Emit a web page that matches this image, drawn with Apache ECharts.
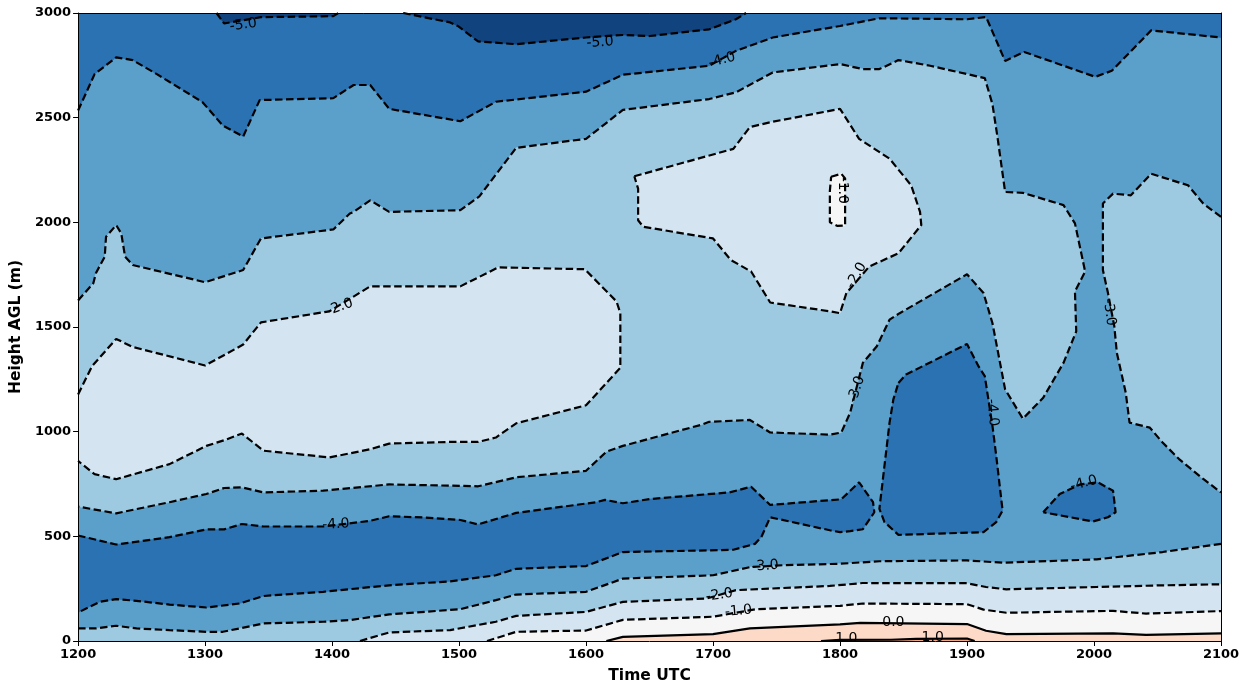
<!DOCTYPE html>
<html>
<head>
<meta charset="utf-8">
<script src="https://cdn.jsdelivr.net/npm/echarts@6/dist/echarts.min.js"></script>
<style>
  html, body { margin: 0; padding: 0; background: #fff; }
  #chart { width: 1251px; height: 689px; }
</style>
</head>
<body>
<div id="chart"></div>
<script>
// Contour lines, as [time UTC, height m]
const xTicks = [1200, 1300, 1400, 1500, 1600, 1700, 1800, 1900, 2000, 2100];
const yTicks = [0, 500, 1000, 1500, 2000, 2500, 3000];

// -5.0 contours along the top
const c5a = [[1309,3000],[1315,2950],[1344,2980],[1401,2985],[1405,3000]];
const c5b = [[1456,3000],[1493,2955],[1499,2938],[1515,2864],[1545,2851],[1600,2883],[1629,2895],[1650,2890],[1697,2922],[1718,2970],[1726,3000]];

// -4.0 contours
const c4top = [[1200,2534],[1213,2708],[1230,2788],[1243,2775],[1262,2708],[1298,2574],[1314,2462],[1330,2410],[1343,2584],[1401,2593],[1417,2656],[1430,2656],[1445,2542],[1501,2483],[1529,2576],[1600,2624],[1629,2705],[1697,2748],[1718,2819],[1747,2883],[1800,2938],[1831,2975],[1900,2970],[1915,2981],[1930,2771],[1945,2814],[2001,2695],[2014,2724],[2045,2917],[2100,2883]];
const c4low = [[1200,504],[1230,461],[1272,496],[1301,533],[1315,533],[1329,559],[1346,547],[1393,547],[1430,574],[1445,596],[1472,590],[1501,578],[1515,557],[1545,612],[1608,663],[1615,674],[1629,658],[1650,678],[1713,710],[1730,737],[1745,650],[1801,677],[1815,758],[1826,663],[1827,615],[1818,534],[1808,525],[1800,520],[1792,529],[1745,591],[1738,496],[1733,464],[1716,436],[1697,433],[1629,425],[1600,358],[1545,345],[1529,314],[1493,285],[1445,266],[1393,235],[1346,215],[1327,179],[1301,160],[1272,174],[1246,192],[1230,200],[1217,187],[1200,136]];
const c4blobA = [[1846,1233],[1852,1273],[1900,1419],[1909,1313],[1914,1265],[1920,1029],[1923,885],[1928,623],[1923,568],[1913,520],[1846,507],[1835,568],[1831,631],[1839,1043],[1842,1154],[1846,1233]];
const c4blobB = [[1960,615],[1973,702],[1989,748],[2003,758],[2015,718],[2017,615],[2011,591],[1999,571],[1960,615]];

// -3.0 contours
const c3up = [[1200,1627],[1212,1709],[1214,1757],[1221,1836],[1222,1931],[1230,1987],[1234,1947],[1237,1836],[1243,1796],[1300,1714],[1330,1772],[1344,1923],[1401,1966],[1414,2042],[1417,2050],[1430,2105],[1445,2050],[1501,2058],[1516,2124],[1545,2356],[1600,2399],[1629,2537],[1697,2589],[1718,2621],[1747,2716],[1800,2756],[1818,2732],[1831,2732],[1846,2775],[1871,2748],[1914,2689],[1920,2565],[1924,2407],[1930,2145],[1944,2141],[1976,2082],[1985,1995],[1993,1765],[1985,1670],[1986,1479],[1976,1329],[1960,1162],[1944,1062],[1930,1202],[1920,1519],[1913,1662],[1900,1752],[1847,1566],[1839,1535],[1829,1408],[1818,1329],[1808,1091],[1801,996],[1792,986],[1745,996],[1729,1056],[1697,1047],[1692,1035],[1629,932],[1616,904],[1600,813],[1545,782],[1515,739],[1493,742],[1445,748],[1393,718],[1346,710],[1329,734],[1315,731],[1301,702],[1272,663],[1230,610],[1200,642]];
const c3right = [[2100,2026],[2086,2090],[2074,2177],[2045,2232],[2029,2129],[2015,2137],[2007,2090],[2007,1995],[2007,1772],[2011,1662],[2016,1503],[2018,1376],[2025,1186],[2028,1043],[2044,1019],[2054,948],[2067,869],[2086,774],[2100,710]];
const c3low = [[1200,60],[1214,60],[1230,73],[1246,60],[1272,52],[1301,44],[1314,44],[1327,60],[1346,84],[1393,92],[1414,100],[1445,127],[1501,152],[1529,195],[1545,222],[1600,235],[1629,298],[1700,314],[1729,353],[1755,362],[1800,369],[1831,381],[1900,385],[1928,374],[2002,390],[2054,425],[2100,464]];

// -2.0 contours
const c2left = [[1200,1178],[1211,1313],[1230,1443],[1243,1405],[1300,1316],[1330,1416],[1344,1522],[1398,1575],[1430,1694],[1501,1694],[1531,1785],[1599,1776],[1624,1622],[1627,1566],[1627,1305],[1600,1126],[1545,1040],[1529,972],[1515,951],[1493,951],[1445,943],[1430,916],[1398,877],[1346,909],[1329,991],[1315,959],[1301,932],[1272,845],[1230,773],[1213,797],[1200,860]];
const c2right = [[1638,2220],[1716,2351],[1729,2455],[1745,2478],[1800,2542],[1815,2399],[1839,2304],[1856,2177],[1863,2050],[1864,1987],[1846,1852],[1823,1789],[1805,1662],[1800,1566],[1792,1575],[1745,1617],[1730,1765],[1714,1820],[1700,1923],[1645,1979],[1641,2010],[1641,2161],[1638,2220]];
const c2low = [[1422,0],[1445,41],[1493,52],[1529,92],[1545,120],[1600,139],[1629,187],[1695,203],[1718,243],[1792,263],[1818,277],[1900,276],[1915,258],[1931,247],[2002,258],[2054,266],[2100,271]];

// -1.0, 0.0 and 1.0 contours
const c1island = [[1793,2218],[1801,2232],[1804,2210],[1804,1985],[1798,1983],[1792,2000],[1792,2150],[1793,2218]];
const c1low = [[1522,0],[1545,44],[1600,50],[1629,101],[1700,116],[1734,152],[1800,168],[1818,179],[1900,176],[1913,150],[1931,135],[2015,144],[2041,131],[2100,143]];
const c0 = [[1616,0],[1629,20],[1700,33],[1729,60],[1800,79],[1816,87],[1900,81],[1915,49],[1931,33],[2015,36],[2041,29],[2100,36]];
const c1pos = [[1785,0],[1800,5],[1840,6],[1860,10],[1900,12],[1906,0]];

// inline contour labels
const labelPos = [[1330,2943],[1611,2859],[1707,2775],[1406,1595],[1802,2153],[1813,1746],[1813,1202],[1920,1091],[2012,1570],[1992,753],[1403,557],[1741,358],[1705,219],[1720,143],[1842,88],[1805,12],[1873,17]];
const labelText = ['-5.0','-5.0','-4.0','-2.0','-1.0','-2.0','-3.0','-4.0','-3.0','-4.0','-4.0','-3.0','-2.0','-1.0','0.0','1.0','1.0'];
const labelAngle = [8,4,15,20,-90,60,72,-85,-82,15,3,4,8,5,0,0,0];

const C = {
  lt5: '#11437f',
  m5: '#2b72b3',
  m4: '#5aa0cb',
  m3: '#9dcae1',
  m2: '#d4e5f1',
  m1: '#f6f6f6',
  p0: '#fddac7',
  p1: '#f4a582'
};

const plot = [[1200,0],[2100,0],[2100,3000],[1200,3000]];

function fill(pts, color) {
  return {
    type: 'custom',
    coordinateSystem: 'cartesian2d',
    data: [pts[0]],
    clip: true,
    silent: true,
    animation: false,
    z: 2,
    renderItem: function (params, api) {
      return {
        type: 'polygon',
        shape: { points: pts.map(p => api.coord(p)) },
        style: { fill: color, stroke: color, lineWidth: 0.6 }
      };
    }
  };
}

function contour(pts, solid) {
  return {
    type: 'line',
    data: pts,
    showSymbol: false,
    silent: true,
    animation: false,
    clip: true,
    z: 4,
    lineStyle: { color: '#000', width: 2.2, type: solid ? 'solid' : [7.5, 3.5] }
  };
}

const rev = a => a.slice().reverse();

const series = [
  fill(plot, C.m4),
  fill(c4top.concat([[2100,3000],[1200,3000]]), C.m5),
  fill(c5a, C.lt5),
  fill(c5b, C.lt5),
  fill(c4low, C.m5),
  fill(c4blobA, C.m5),
  fill(c4blobB, C.m5),
  fill(c3up, C.m3),
  fill(c3right, C.m3),
  fill(c3low.concat(rev(c2low), [[1200,0]]), C.m3),
  fill(c2left, C.m2),
  fill(c2right, C.m2),
  fill(c2low.concat(rev(c1low)), C.m2),
  fill(c1island, C.m1),
  fill(c1low.concat(rev(c0)), C.m1),
  fill(c0.concat([[2100,0]]), C.p0),
  fill(c1pos, C.p1),
  contour(c5a), contour(c5b), contour(c4top), contour(c4low),
  contour(c4blobA), contour(c4blobB), contour(c3up), contour(c3right),
  contour(c3low), contour(c2left), contour(c2right), contour(c2low),
  contour(c1island), contour(c1low), contour(c0, true), contour(c1pos, true),
  {
    type: 'custom',
    coordinateSystem: 'cartesian2d',
    data: labelPos,
    silent: true,
    animation: false,
    z: 6,
    renderItem: function (params, api) {
      const p = api.coord([api.value(0), api.value(1)]);
      const i = params.dataIndex;
      return {
        type: 'text',
        x: p[0], y: p[1],
        rotation: labelAngle[i] * Math.PI / 180,
        style: {
          text: labelText[i], fill: '#000',
          font: '14px "DejaVu Sans"', align: 'center', verticalAlign: 'middle'
        }
      };
    }
  }
];

const tickFont = { fontFamily: 'DejaVu Sans', fontWeight: 'bold', fontSize: 13, color: '#000' };
const nameFont = { fontFamily: 'DejaVu Sans', fontWeight: 'bold', fontSize: 15.5, color: '#000' };

const chart = echarts.init(document.getElementById('chart'), null, { renderer: 'canvas' });
chart.setOption({
  animation: false,
  backgroundColor: '#fff',
  grid: { left: 78, right: 30, top: 13, bottom: 45 },
  xAxis: [{
    type: 'value', min: xTicks[0], max: xTicks[xTicks.length - 1], interval: 100,
    name: 'Time UTC', nameLocation: 'middle', nameGap: 27, nameTextStyle: nameFont,
    axisLine: { show: true, onZero: false, lineStyle: { color: '#000', width: 1 } },
    axisTick: { show: true, length: 5, lineStyle: { color: '#000' } },
    axisLabel: Object.assign({ margin: 7, formatter: v => String(v) }, tickFont),
    splitLine: { show: false }, z: 10
  }, {
    type: 'value', position: 'top', min: 1200, max: 2100,
    axisLine: { show: true, onZero: false, lineStyle: { color: '#000', width: 1 } },
    axisTick: { show: false }, axisLabel: { show: false }, splitLine: { show: false }, z: 10
  }],
  yAxis: [{
    type: 'value', min: yTicks[0], max: yTicks[yTicks.length - 1], interval: 500,
    name: 'Height AGL (m)', nameLocation: 'middle', nameGap: 52, nameTextStyle: nameFont,
    axisLine: { show: true, onZero: false, lineStyle: { color: '#000', width: 1 } },
    axisTick: { show: true, length: 5, lineStyle: { color: '#000' } },
    axisLabel: Object.assign({ margin: 7, formatter: v => String(v) }, tickFont),
    splitLine: { show: false }, z: 10
  }, {
    type: 'value', position: 'right', min: 0, max: 3000,
    axisLine: { show: true, onZero: false, lineStyle: { color: '#000', width: 1 } },
    axisTick: { show: false }, axisLabel: { show: false }, splitLine: { show: false }, z: 10
  }],
  series: series
});
</script>
</body>
</html>
